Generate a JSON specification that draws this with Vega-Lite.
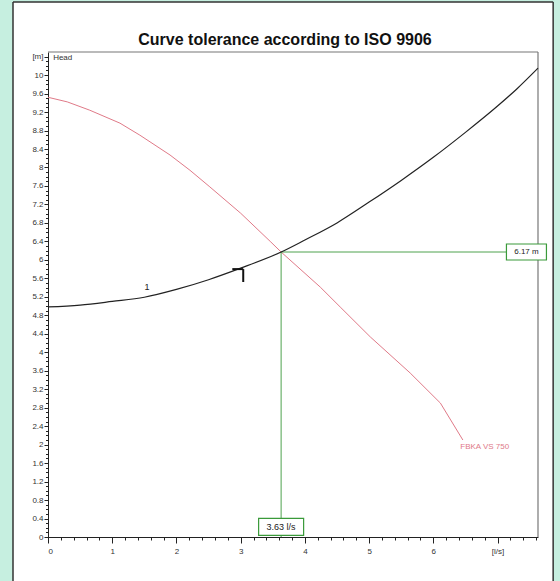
{
  "$schema": "https://vega.github.io/schema/vega-lite/v6.json",
  "autosize": {"type": "none"},
  "padding": {"left": 48, "top": 52, "right": 22, "bottom": 44},
  "width": 490,
  "height": 485,
  "background": "white",
  "title": {"text": "Curve tolerance according to ISO 9906", "font": "Liberation Sans", "fontSize": 16, "fontWeight": "bold", "color": "#111", "offset": -64, "dx": -8, "baseline": "bottom"},
  "config": {
    "view": {"stroke": null},
    "axis": {"labelFont": "Liberation Sans", "labelFontSize": 8, "labelColor": "#333", "tickColor": "#222", "domainColor": "#222", "grid": false, "title": null}
  },
  "datasets": {
    "strips": [
      {"x": -0.8, "x2": -0.545, "y": -1.3, "y2": 11.63},
      {"x": 7.866, "x2": 8.3, "y": -1.3, "y2": 11.63},
      {"x": -0.8, "x2": 8.3, "y": 11.58, "y2": 11.63}
    ],
    "border": [
      {"x": -0.545, "x2": -0.545, "y": -1.3, "y2": 11.58},
      {"x": -0.545, "x2": 7.866, "y": 11.58, "y2": 11.58},
      {"x": 7.866, "x2": 7.866, "y": -1.3, "y2": 11.58}
    ],
    "frame": [
      {"x": 0, "x2": 7.63, "y": 10.5, "y2": 10.5},
      {"x": 7.63, "x2": 7.63, "y": 0, "y2": 10.5}
    ],
    "pump": [
      {"Q": 0, "H": 9.52}, {"Q": 0.3, "H": 9.42}, {"Q": 0.65, "H": 9.24}, {"Q": 1.12, "H": 8.96},
      {"Q": 1.43, "H": 8.7}, {"Q": 1.9, "H": 8.27}, {"Q": 2.21, "H": 7.94}, {"Q": 2.52, "H": 7.58},
      {"Q": 3.0, "H": 7.01}, {"Q": 3.46, "H": 6.4}, {"Q": 3.63, "H": 6.17}, {"Q": 4.24, "H": 5.41},
      {"Q": 4.55, "H": 4.98}, {"Q": 5.02, "H": 4.33}, {"Q": 5.64, "H": 3.55}, {"Q": 6.11, "H": 2.9},
      {"Q": 6.46, "H": 2.1}
    ],
    "system": [
      {"Q": 0, "H": 4.98}, {"Q": 0.5, "H": 5.02}, {"Q": 1.0, "H": 5.1}, {"Q": 1.5, "H": 5.19},
      {"Q": 2.0, "H": 5.36}, {"Q": 2.5, "H": 5.57}, {"Q": 3.0, "H": 5.82}, {"Q": 3.63, "H": 6.17},
      {"Q": 4.0, "H": 6.43}, {"Q": 4.5, "H": 6.8}, {"Q": 5.0, "H": 7.25}, {"Q": 5.5, "H": 7.72},
      {"Q": 6.0, "H": 8.22}, {"Q": 6.5, "H": 8.76}, {"Q": 7.0, "H": 9.33}, {"Q": 7.3, "H": 9.7},
      {"Q": 7.63, "H": 10.15}
    ],
    "marker": [
      {"x": 2.87, "x2": 3.04, "y": 5.8, "y2": 5.8},
      {"x": 3.04, "x2": 3.04, "y": 5.8, "y2": 5.52}
    ],
    "duty": [
      {"x": 3.63, "x2": 3.63, "y": 0, "y2": 6.17},
      {"x": 3.63, "x2": 7.63, "y": 6.17, "y2": 6.17}
    ],
    "flowLabel": [{"Q": 3.63, "H": 0.22, "text": "3.63 l/s"}],
    "headLabel": [{"Q": 7.45, "H": 6.17, "text": "6.17 m"}],
    "headTitle": [{"Q": 0.08, "H": 10.37, "text": "Head"}],
    "curveName": [{"Q": 6.42, "H": 1.95, "text": "FBKA VS 750"}],
    "curveNo": [{"Q": 1.54, "H": 5.3, "text": "1"}]
  },
  "layer": [
    {
      "data": {"name": "strips"},
      "mark": {"type": "rect", "fill": "#c6efe0", "clip": false},
      "encoding": {
        "x": {"field": "x", "type": "quantitative", "scale": {"domain": [0, 7.63], "nice": false, "zero": false}, "axis": null},
        "x2": {"field": "x2"},
        "y": {"field": "y", "type": "quantitative", "scale": {"domain": [0, 10.5], "nice": false, "zero": false}, "axis": null},
        "y2": {"field": "y2"}
      }
    },
    {
      "data": {"name": "border"},
      "mark": {"type": "rule", "color": "#333", "strokeWidth": 1.5},
      "encoding": {
        "x": {"field": "x", "type": "quantitative", "axis": null},
        "x2": {"field": "x2"},
        "y": {"field": "y", "type": "quantitative", "axis": null},
        "y2": {"field": "y2"}
      }
    },
    {
      "data": {"name": "frame"},
      "mark": {"type": "rule", "color": "#777", "strokeWidth": 1.2},
      "encoding": {
        "x": {"field": "x", "type": "quantitative", "axis": null},
        "x2": {"field": "x2"},
        "y": {"field": "y", "type": "quantitative", "axis": null},
        "y2": {"field": "y2"}
      }
    },
    {
      "data": {"name": "pump"},
      "mark": {"type": "line", "color": "#e07a88", "strokeWidth": 1},
      "encoding": {
        "x": {"field": "Q", "type": "quantitative",
              "axis": {"orient": "bottom", "labels": false, "domain": false, "tickSize": 3,
                       "values": [0,0.2,0.4,0.6,0.8,1,1.2,1.4,1.6,1.8,2,2.2,2.4,2.6,2.8,3,3.2,3.4,3.6,3.8,4,4.2,4.4,4.6,4.8,5,5.2,5.4,5.6,5.8,6,6.2,6.4,6.6,6.8,7,7.2,7.4,7.6]}},
        "y": {"field": "H", "type": "quantitative",
              "axis": {"orient": "left", "labels": false, "domain": false, "tickSize": 2.5,
                       "values": [0,0.1,0.2,0.3,0.4,0.5,0.6,0.7,0.8,0.9,1,1.1,1.2,1.3,1.4,1.5,1.6,1.7,1.8,1.9,2,2.1,2.2,2.3,2.4,2.5,2.6,2.7,2.8,2.9,3,3.1,3.2,3.3,3.4,3.5,3.6,3.7,3.8,3.9,4,4.1,4.2,4.3,4.4,4.5,4.6,4.7,4.8,4.9,5,5.1,5.2,5.3,5.4,5.5,5.6,5.7,5.8,5.9,6,6.1,6.2,6.3,6.4,6.5,6.6,6.7,6.8,6.9,7,7.1,7.2,7.3,7.4,7.5,7.6,7.7,7.8,7.9,8,8.1,8.2,8.3,8.4,8.5,8.6,8.7,8.8,8.9,9,9.1,9.2,9.3,9.4,9.5,9.6,9.7,9.8,9.9,10,10.1,10.2,10.3,10.4]}}
      }
    },
    {
      "data": {"name": "duty"},
      "mark": {"type": "rule", "color": "#4fa24f", "strokeWidth": 1},
      "encoding": {
        "x": {"field": "x", "type": "quantitative", "axis": null},
        "x2": {"field": "x2"},
        "y": {"field": "y", "type": "quantitative", "axis": null},
        "y2": {"field": "y2"}
      }
    },
    {
      "data": {"name": "system"},
      "mark": {"type": "line", "color": "#222", "strokeWidth": 1.2, "interpolate": "monotone"},
      "encoding": {
        "x": {"field": "Q", "type": "quantitative",
              "axis": {"orient": "bottom", "tickSize": 6, "labelPadding": 4,
                       "values": [0,1,2,3,4,5,6,7],
                       "labelExpr": "datum.value == 7 ? '[l/s]' : datum.label"}},
        "y": {"field": "H", "type": "quantitative",
              "axis": {"orient": "left", "tickSize": 4, "labelPadding": 1, "format": ".1~f",
                       "values": [0,0.4,0.8,1.2,1.6,2,2.4,2.8,3.2,3.6,4,4.4,4.8,5.2,5.6,6,6.4,6.8,7.2,7.6,8,8.4,8.8,9.2,9.6,10,10.4],
                       "labelExpr": "datum.value > 10.2 ? '[m]' : datum.label"}}
      }
    },
    {
      "data": {"name": "marker"},
      "mark": {"type": "rule", "color": "#111", "strokeWidth": 2},
      "encoding": {
        "x": {"field": "x", "type": "quantitative", "axis": null},
        "x2": {"field": "x2"},
        "y": {"field": "y", "type": "quantitative", "axis": null},
        "y2": {"field": "y2"}
      }
    },
    {
      "data": {"name": "flowLabel"},
      "mark": {"type": "point", "shape": "M-1,-0.38H1V0.38H-1Z", "size": 2025, "filled": true, "fill": "white", "stroke": "#3a9a3a", "strokeWidth": 1.2, "opacity": 1},
      "encoding": {
        "x": {"field": "Q", "type": "quantitative", "axis": null},
        "y": {"field": "H", "type": "quantitative", "axis": null}
      }
    },
    {
      "data": {"name": "flowLabel"},
      "mark": {"type": "text", "font": "Liberation Sans", "fontSize": 9, "color": "#222", "baseline": "middle"},
      "encoding": {
        "x": {"field": "Q", "type": "quantitative", "axis": null},
        "y": {"field": "H", "type": "quantitative", "axis": null},
        "text": {"field": "text"}
      }
    },
    {
      "data": {"name": "headLabel"},
      "mark": {"type": "point", "shape": "M-1,-0.4H1V0.4H-1Z", "size": 1600, "filled": true, "fill": "white", "stroke": "#3a9a3a", "strokeWidth": 1.2, "opacity": 1},
      "encoding": {
        "x": {"field": "Q", "type": "quantitative", "axis": null},
        "y": {"field": "H", "type": "quantitative", "axis": null}
      }
    },
    {
      "data": {"name": "headLabel"},
      "mark": {"type": "text", "font": "Liberation Sans", "fontSize": 8, "color": "#222", "baseline": "middle"},
      "encoding": {
        "x": {"field": "Q", "type": "quantitative", "axis": null},
        "y": {"field": "H", "type": "quantitative", "axis": null},
        "text": {"field": "text"}
      }
    },
    {
      "data": {"name": "headTitle"},
      "mark": {"type": "text", "font": "Liberation Sans", "fontSize": 8, "color": "#333", "align": "left", "baseline": "middle"},
      "encoding": {
        "x": {"field": "Q", "type": "quantitative", "axis": null},
        "y": {"field": "H", "type": "quantitative", "axis": null},
        "text": {"field": "text"}
      }
    },
    {
      "data": {"name": "curveName"},
      "mark": {"type": "text", "font": "Liberation Sans", "fontSize": 8, "color": "#e07a88", "align": "left", "baseline": "middle"},
      "encoding": {
        "x": {"field": "Q", "type": "quantitative", "axis": null},
        "y": {"field": "H", "type": "quantitative", "axis": null},
        "text": {"field": "text"}
      }
    },
    {
      "data": {"name": "curveNo"},
      "mark": {"type": "text", "font": "Liberation Sans", "fontSize": 9, "color": "#222", "align": "center", "baseline": "bottom"},
      "encoding": {
        "x": {"field": "Q", "type": "quantitative", "axis": null},
        "y": {"field": "H", "type": "quantitative", "axis": null},
        "text": {"field": "text"}
      }
    }
  ],
  "resolve": {"axis": {"x": "independent", "y": "independent"}}
}
